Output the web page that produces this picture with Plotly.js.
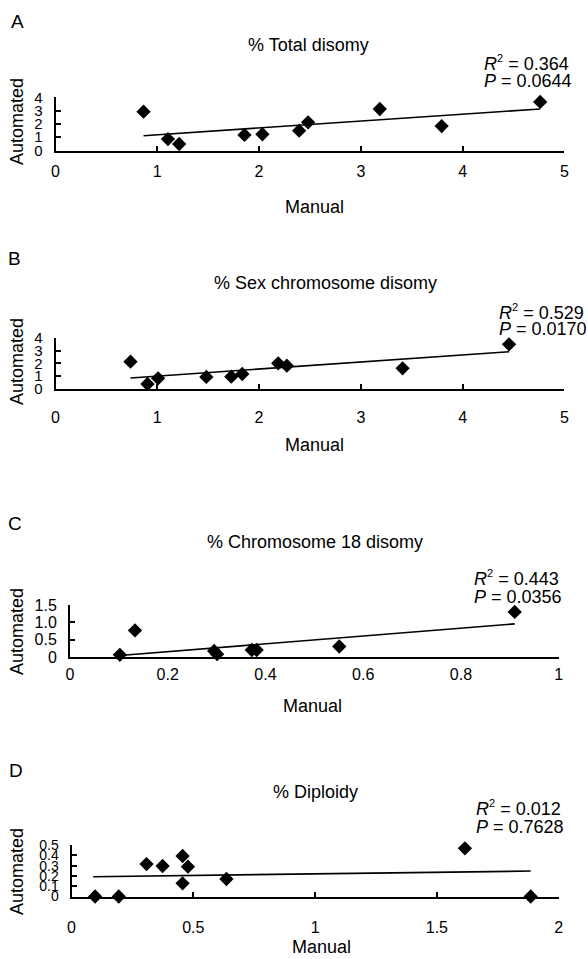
<!DOCTYPE html>
<html>
<head>
<meta charset="utf-8">
<script src="https://cdn.plot.ly/plotly-3.0.1.min.js"></script>
<style>
html,body{margin:0;padding:0;background:#fff;}
#chart{width:588px;height:959px;}
</style>
</head>
<body>
<div id="chart"></div>
<script>
// ---------- data ----------
// A: % Total disomy
const totalManual    = [0.865, 1.105, 1.215, 1.857, 2.033, 2.394, 2.482, 3.186, 3.794, 4.762];
const totalAuto      = [2.92, 0.86, 0.49, 1.17, 1.22, 1.49, 2.12, 3.12, 1.84, 3.65];
const totalTrendX    = [0.865, 4.762];
const totalTrendY    = [1.11, 3.12];
const totalStats     = ["0.364", "0.0644"];

// B: % Sex chromosome disomy
const sexManual      = [0.737, 0.904, 1.008, 1.482, 1.727, 1.835, 2.188, 2.273, 3.41, 4.456];
const sexAuto        = [2.13, 0.39, 0.83, 0.94, 0.96, 1.17, 2.0, 1.82, 1.61, 3.48];
const sexTrendX      = [0.737, 4.456];
const sexTrendY      = [0.86, 2.91];
const sexStats       = ["0.529", "0.0170"];

// C: % Chromosome 18 disomy
const chr18Manual    = [0.102, 0.133, 0.295, 0.301, 0.372, 0.382, 0.551, 0.910];
const chr18Auto      = [0.07, 0.77, 0.18, 0.09, 0.21, 0.21, 0.31, 1.30];
const chr18TrendX    = [0.102, 0.910];
const chr18TrendY    = [0.05, 0.96];
const chr18Stats     = ["0.443", "0.0356"];

// D: % Diploidy
const diploManual    = [0.097, 0.194, 0.308, 0.374, 0.456, 0.478, 0.456, 0.636, 1.615, 1.885];
const diploAuto      = [0.0, 0.0, 0.315, 0.296, 0.393, 0.29, 0.128, 0.17, 0.468, 0.0];
const diploTrendX    = [0.089, 1.885];
const diploTrendY    = [0.192, 0.247];
const diploStats     = ["0.012", "0.7628"];

// tick labels
const xTicksAB       = [0, 1, 2, 3, 4, 5];
const yTicksAB       = [0, 1, 2, 3, 4];
const xTicksC        = [0, 0.2, 0.4, 0.6, 0.8, 1];
const xTickTextC     = ["0", "0.2", "0.4", "0.6", "0.8", "1"];
const yTicksC        = [0, 0.5, 1.0, 1.5];
const yTickTextC     = ["0", "0.5", "1.0", "1.5"];
const xTicksD        = [0, 0.5, 1, 1.5, 2];
const xTickTextD     = ["0", "0.5", "1", "1.5", "2"];
const yTicksD        = [0, 0.1, 0.2, 0.3, 0.4, 0.5];
const yTickTextD     = ["0", "0.1", "0.2", "0.3", "0.4", "0.5"];

const panelLetters   = ["A", "B", "C", "D"];
const panelTitles    = ["% Total disomy", "% Sex chromosome disomy", "% Chromosome 18 disomy", "% Diploidy"];
const xTitle         = "Manual";
const yTitle         = "Automated";

// ---------- layout helpers ----------
const W = 588, H = 959;
const FONT = "Liberation Sans, Arial, Helvetica, sans-serif";
const fx = p => p / W;
const fy = p => 1 - p / H;

function xAxis(l, r, range, tv, tt, anchor, ticks, standoff) {
  return {
    domain: [fx(l), fx(r)], range: range, anchor: anchor,
    showline: true, linecolor: "#000", linewidth: 2,
    ticks: ticks, ticklen: 5, tickwidth: 2, tickcolor: "#000",
    tickmode: "array", tickvals: tv, ticktext: tt,
    tickfont: {family: FONT, size: 16, color: "#000"},
    ticklabelstandoff: standoff,
    showgrid: false, zeroline: false, fixedrange: true
  };
}
function yAxis(b, t, range, tv, tt, anchor, fsize) {
  return {
    domain: [fy(b), fy(t)], range: range, anchor: anchor,
    showline: true, linecolor: "#000", linewidth: 2,
    ticks: "inside", ticklen: 5, tickwidth: 2, tickcolor: "#000",
    tickmode: "array", tickvals: tv, ticktext: tt,
    tickfont: {family: FONT, size: fsize, color: "#000"},
    ticklabelstandoff: 8,
    showgrid: false, zeroline: false, fixedrange: true
  };
}

function pts(x, y, xa, ya) {
  return {x: x, y: y, xaxis: xa, yaxis: ya, type: "scatter", mode: "markers",
    marker: {symbol: "diamond", size: 11, color: "#000", line: {width: 0}},
    cliponaxis: false, showlegend: false, hoverinfo: "skip"};
}
function trend(x, y, xa, ya) {
  return {x: x, y: y, xaxis: xa, yaxis: ya, type: "scatter", mode: "lines",
    line: {color: "#000", width: 1.6}, cliponaxis: false, showlegend: false, hoverinfo: "skip"};
}

const data = [
  trend(totalTrendX, totalTrendY, "x", "y"),
  pts(totalManual, totalAuto, "x", "y"),
  trend(sexTrendX, sexTrendY, "x2", "y2"),
  pts(sexManual, sexAuto, "x2", "y2"),
  trend(chr18TrendX, chr18TrendY, "x3", "y3"),
  pts(chr18Manual, chr18Auto, "x3", "y3"),
  trend(diploTrendX, diploTrendY, "x4", "y4"),
  pts(diploManual, diploAuto, "x4", "y4")
];

// annotation helper
function txt(text, px, py, size, opts) {
  return Object.assign({text: text, xref: "paper", yref: "paper", x: fx(px), y: fy(py),
    xanchor: "center", yanchor: "middle", showarrow: false,
    font: {family: FONT, size: size, color: "#000"}}, opts || {});
}

const letterPos = [[17, 22], [14, 258], [15, 523], [16, 770]];
const titlePos  = [[308, 45], [325, 283], [315, 542], [315, 792]];
const yTitlePos = [[17, 122], [17, 362], [17, 632], [17, 872]];
const xTitlePos = [[314, 207], [314, 445], [312, 706], [321, 947]];
const statPos   = [[482, 63, 81.5], [497, 311.5, 329.5], [472, 578, 597], [474, 808, 827]];
const stats     = [totalStats, sexStats, chr18Stats, diploStats];

const annotations = [];
for (let i = 0; i < 4; i++) {
  annotations.push(txt(panelLetters[i], letterPos[i][0], letterPos[i][1], 19));
  annotations.push(txt(panelTitles[i], titlePos[i][0], titlePos[i][1], 18));
  annotations.push(txt(yTitle, yTitlePos[i][0], yTitlePos[i][1], 18, {textangle: -90}));
  annotations.push(txt(xTitle, xTitlePos[i][0], xTitlePos[i][1], 18));
  annotations.push(txt("<i>R</i><sup><span style='font-size:11px'>2</span></sup> = " + stats[i][0],
    statPos[i][0], statPos[i][1], 18, {xanchor: "left"}));
  annotations.push(txt("<i>P</i> = " + stats[i][1], statPos[i][0], statPos[i][2], 18, {xanchor: "left"}));
}

const layout = {
  width: W, height: H,
  margin: {l: 0, r: 0, t: 0, b: 0},
  paper_bgcolor: "#fff", plot_bgcolor: "rgba(0,0,0,0)",
  showlegend: false,
  font: {family: FONT, color: "#000"},
  xaxis:  xAxis(55.5, 564.4, [0, 5], xTicksAB, xTicksAB.map(String), "y", "inside", 5),
  yaxis:  yAxis(150.5, 97.3, [0, 4], yTicksAB, yTicksAB.map(String), "x", 15),
  xaxis2: xAxis(55.5, 564.4, [0, 5], xTicksAB, xTicksAB.map(String), "y2", "inside", 13),
  yaxis2: yAxis(389, 337.7, [0, 4], yTicksAB, yTicksAB.map(String), "x2", 15),
  xaxis3: xAxis(70, 558.7, [0, 1], xTicksC, xTickTextC, "y3", "", 1),
  yaxis3: yAxis(657.3, 605, [0, 1.5], yTicksC, yTickTextC, "x3", 16),
  xaxis4: xAxis(71.5, 558.7, [0, 2], xTicksD, xTickTextD, "y4", "inside", 15),
  yaxis4: yAxis(896.5, 845, [0, 0.5], yTicksD, yTickTextD, "x4", 14),
  annotations: annotations
};

Plotly.newPlot("chart", data, layout, {staticPlot: true, displayModeBar: false});
</script>
</body>
</html>
